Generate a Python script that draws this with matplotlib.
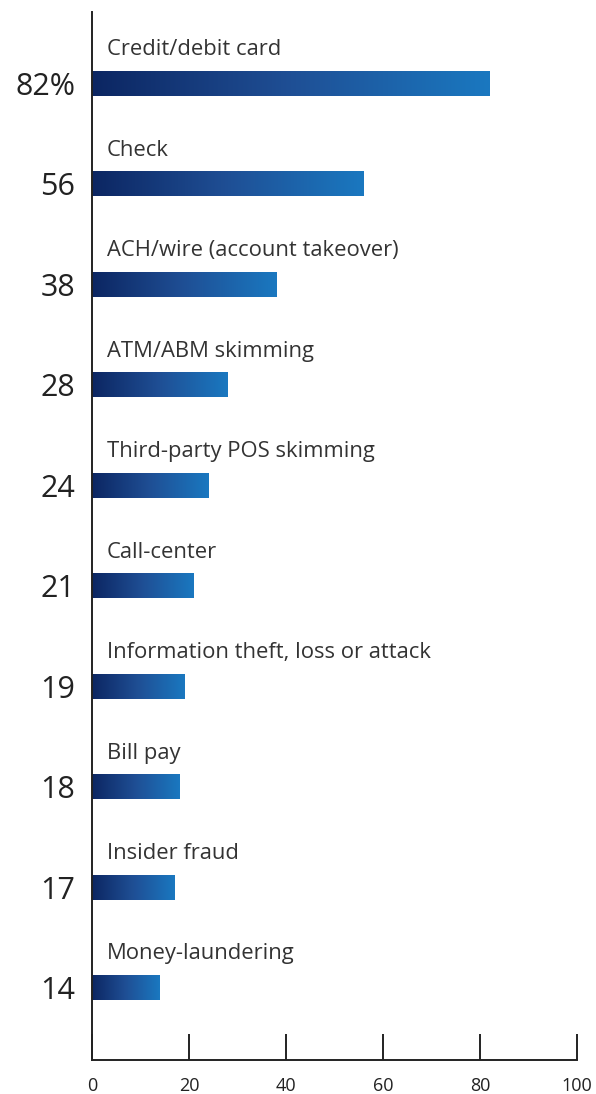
import matplotlib.pyplot as plt
import numpy as np
from matplotlib.colors import LinearSegmentedColormap

categories = ['Credit/debit card', 'Check', 'ACH/wire (account takeover)',
              'ATM/ABM skimming', 'Third-party POS skimming', 'Call-center',
              'Information theft, loss or attack', 'Bill pay', 'Insider fraud',
              'Money-laundering']
values = [82, 56, 38, 28, 24, 21, 19, 18, 17, 14]
value_labels = ['82%', '56', '38', '28', '24', '21', '19', '18', '17', '14']
xticks = [0, 20, 40, 60, 80, 100]

plt.rcParams['font.family'] = ['Open Sans', 'DejaVu Sans']

cmap = LinearSegmentedColormap.from_list('blue', ['#0c2662', '#1f4f95', '#1a78c0'])
grad = np.linspace(0, 1, 256).reshape(1, -1)

fig = plt.figure(figsize=(5.96, 10.94), dpi=100)
ax = fig.add_axes([92/596, 34/1094, 485/596, 1048/1094])

h = 0.24
for i, (cat, v, lab) in enumerate(zip(categories, values, value_labels)):
    ax.imshow(grad, cmap=cmap, aspect='auto', interpolation='bicubic',
              extent=[0, v, i + h/2, i - h/2], zorder=2)
    ax.text(3.0, i - 0.34, cat, fontsize=15.8, color='#333333', va='center', ha='left')
    ax.text(-3.4, i + 0.03, lab, fontsize=22, color='#222222', va='center', ha='right',
            clip_on=False)

ax.set_xlim(0, 100)
ax.set_ylim(9.715, -0.715)
ax.set_xticks(xticks)
ax.set_yticks([])
ax.tick_params(axis='x', direction='in', length=19, width=1.4, labelsize=13,
               pad=12, colors='#222222')
for s in ['top', 'right']:
    ax.spines[s].set_visible(False)
for s in ['left', 'bottom']:
    ax.spines[s].set_linewidth(1.4)
    ax.spines[s].set_color('#222222')

fig.savefig('out.png', dpi=100)
